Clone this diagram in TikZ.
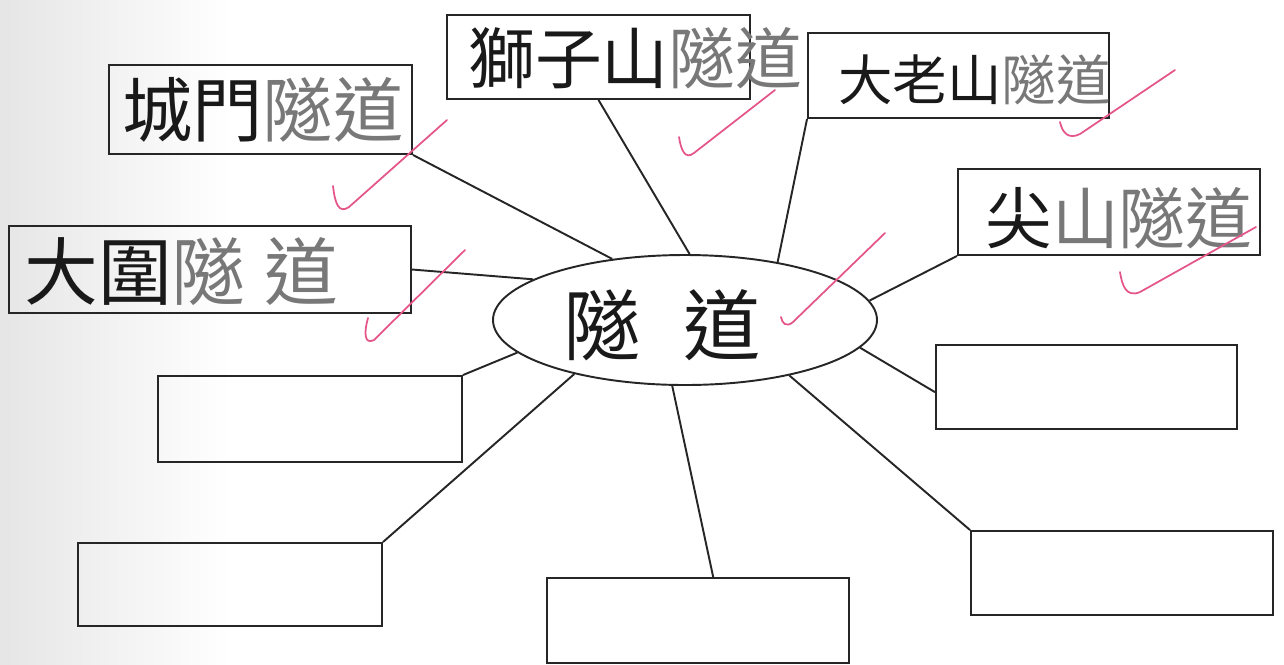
\documentclass[tikz,border=0pt]{standalone}
\usepackage{fontspec}
\newfontfamily\cjk{Noto Sans CJK TC}
\usetikzlibrary{shapes.geometric,calc}

\definecolor{checkred}{RGB}{228,86,138}
\definecolor{pencil}{RGB}{120,120,120}
\newcommand{\hsz}[1]{\fontsize{#1}{#1}\selectfont}
\def\pxu{0.02cm}

\tikzset{
  box/.style={draw=black!85, line width=1.1pt, rectangle, inner sep=0pt},
  link/.style={draw=black!85, line width=1.1pt},
  tick/.style={draw=checkred, line width=1pt, line cap=round, line join=round},
  hand/.style={font=\cjk, inner sep=0pt, anchor=west, text=black!90},
}

\begin{document}
\begin{tikzpicture}[x=0.02cm, y=-0.02cm]
  \useasboundingbox (0,0) rectangle (1284,664);
  % scan shadow on the left
  \shade[left color=black!10, right color=white] (0,0) rectangle (230,664);

  % centre
  \node[ellipse, draw=black!85, line width=1.1pt, fill=white,
        minimum width=384*\pxu, minimum height=130*\pxu] (tunnel) at (685,320) {};
  \node[hand, anchor=center] (tunnel-txt) at (662,325) {\hsz{44}隧\hspace{0.55em}道};

  % filled boxes
  \node[box, minimum width=303*\pxu, minimum height=89*\pxu] (chengmen) at (260.5,109.5) {};
  \node[box, minimum width=303*\pxu, minimum height=84*\pxu] (shizishan) at (598.5,57) {};
  \node[box, minimum width=301*\pxu, minimum height=85*\pxu] (dalaoshan) at (958.5,75.5) {};
  \node[box, minimum width=302*\pxu, minimum height=86*\pxu] (jianshan) at (1109,212) {};
  \node[box, minimum width=402*\pxu, minimum height=87*\pxu] (taiwai) at (210,269.5) {};

  % empty boxes
  \node[box, minimum width=304*\pxu, minimum height=86*\pxu] (blankleft) at (310,419) {};
  \node[box, minimum width=304*\pxu, minimum height=83*\pxu] (blanklowleft) at (230,584.5) {};
  \node[box, minimum width=302*\pxu, minimum height=85*\pxu] (blankbottom) at (698,620.5) {};
  \node[box, minimum width=302*\pxu, minimum height=84*\pxu] (blanklowright) at (1122,573) {};
  \node[box, minimum width=301*\pxu, minimum height=84*\pxu] (blankright) at (1086.5,387) {};

  % handwriting
  \node[hand] (chengmen-txt) at (122,110) {\hsz{40}城門\textcolor{pencil}{隧道}};
  \node[hand] (shizishan-txt) at (468,58) {\hsz{38}獅子山\textcolor{pencil}{隧道}};
  \node[hand] (dalaoshan-txt) at (838,80) {\hsz{31}大老山\textcolor{pencil}{隧道}};
  \node[hand] (jianshan-txt) at (985,218) {\hsz{38}尖\textcolor{pencil}{山隧道}};
  \node[hand] (taiwai-txt) at (24,272) {\hsz{42}大圍\textcolor{pencil}{隧\hspace{0.25em}道}};

  % connectors
  \draw[link] (chengmen.south east) -- (tunnel.140);
  \draw[link] (shizishan.south) -- (tunnel.86);
  \draw[link] (dalaoshan.south west) -- (tunnel.32);
  \draw[link] (jianshan.south west) -- (tunnel.6);
  \draw[link] (taiwai.east) -- (tunnel.165);
  \draw[link] (blankleft.north east) -- (tunnel.191);
  \draw[link] (blanklowleft.north east) -- (tunnel.206);
  \draw[link] ($(blankbottom.north west)!0.55!(blankbottom.north east)$) -- (tunnel.259);
  \draw[link] (blanklowright.north west) -- (tunnel.332);
  \draw[link] ($(blankright.north west)!0.56!(blankright.south west)$) -- (tunnel.351);

  % ticks
  \draw[tick] (333,186) .. controls (335,204) and (339,214) .. (349,207) -- (447,120);
  \draw[tick] (368,318) .. controls (364,332) and (364,345) .. (374,340) -- (465,250);
  \draw[tick] (679,137) .. controls (681,150) and (685,160) .. (694,153) -- (775,90);
  \draw[tick] (1060,122) .. controls (1062,132) and (1068,140) .. (1080,134) -- (1175,70);
  \draw[tick] (781,317) .. controls (782,323) and (786,328) .. (793,322) -- (885,233);
  \draw[tick] (1120,272) .. controls (1122,285) and (1126,298) .. (1140,292) -- (1256,227);
\end{tikzpicture}
\end{document}
